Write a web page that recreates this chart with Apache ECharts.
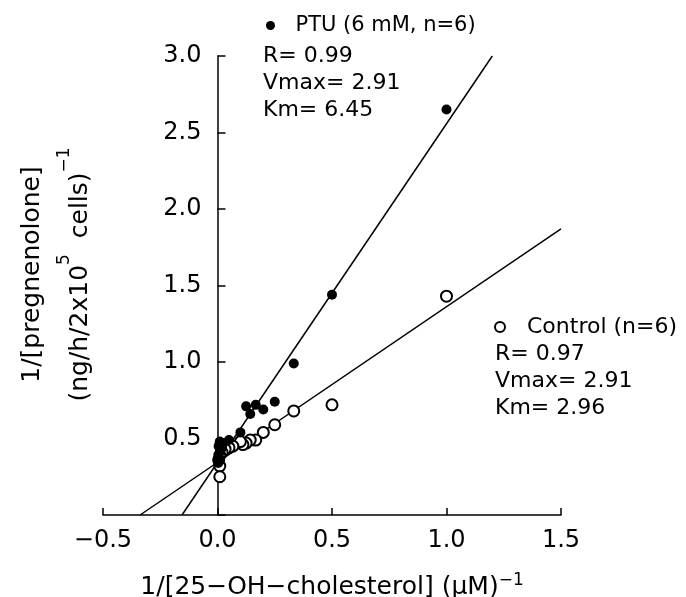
<!DOCTYPE html>
<html>
<head>
<meta charset="utf-8">
<script src="https://cdn.jsdelivr.net/npm/echarts@6/dist/echarts.min.js"></script>
<style>
  html, body { margin: 0; padding: 0; background: #fff; }
  #chart { width: 686px; height: 597px; }
</style>
</head>
<body>
<div id="chart"></div>
<script>
  // PTU (6 mM) points, filled
  const ptuX = [1.0, 0.5, 0.333, 0.25, 0.2, 0.167, 0.143, 0.125, 0.1, 0.05, 0.025, 0.02, 0.01, 0.01, 0.005, 0.005, 0.003];
  const ptuY = [2.65, 1.44, 0.99, 0.74, 0.69, 0.72, 0.66, 0.71, 0.54, 0.49, 0.47, 0.44, 0.48, 0.41, 0.45, 0.37, 0.34];
  // Control points, open
  const ctrlX = [1.0, 0.5, 0.333, 0.25, 0.2, 0.167, 0.143, 0.125, 0.111, 0.1, 0.067, 0.05, 0.033, 0.02, 0.01, 0.01, 0.01, 0.005];
  const ctrlY = [1.43, 0.72, 0.68, 0.59, 0.54, 0.49, 0.49, 0.47, 0.46, 0.48, 0.45, 0.44, 0.43, 0.41, 0.39, 0.32, 0.25, 0.36];
  // fitted lines (end points)
  const ptuFitX = [-0.155, 1.2];
  const ptuFitY = [0, 3.0];
  const ctrlFitX = [-0.338, 1.5];
  const ctrlFitY = [0, 1.87];
  // stats text
  const ptuStats = ['R= 0.99', 'Vmax= 2.91', 'Km= 6.45'];
  const ctrlStats = ['R= 0.97', 'Vmax= 2.91', 'Km= 2.96'];

  const FONT = 'DejaVu Sans';
  const zip = (xs, ys) => xs.map((x, i) => [x, ys[i]]);
  const fmt = (v) => v.toFixed(1).replace('-', '\u2212');

  const chart = echarts.init(document.getElementById('chart'));

  const statText = (lines, left, top0) =>
    lines.map((t, i) => ({
      type: 'text',
      left: left,
      top: top0 + i * 27,
      style: { text: t, font: '22px "' + FONT + '"', fill: '#000' },
    }));

  const option = {
    animation: false,
    backgroundColor: '#fff',
    grid: { left: 103, right: 125, top: 56, bottom: 82, outerBoundsMode: 'none' },
    legend: [
      {
        data: [{ name: 'PTU (6 mM, n=6)', icon: 'circle' }],
        left: 266,
        top: 15,
        padding: 0,
        itemWidth: 40,
        itemHeight: 9,
        textStyle: { fontFamily: FONT, fontSize: 21, color: '#000' },
      },
      {
        data: [{ name: 'Control (n=6)', icon: 'emptyCircle' }],
        left: 494,
        top: 316,
        padding: 0,
        itemWidth: 44,
        itemHeight: 10,
        textStyle: { fontFamily: FONT, fontSize: 22, color: '#000' },
      },
    ],
    graphic: [...statText(ptuStats, 263, 45), ...statText(ctrlStats, 495, 343)],
    xAxis: {
      type: 'value',
      min: -0.5,
      max: 1.5,
      interval: 0.5,
      name: '{t|1/[25\u2212OH\u2212cholesterol] (\u03bcM)}{sup|\u22121}',
      nameLocation: 'middle',
      nameGap: 57,
      nameTextStyle: {
        rich: {
          t: { fontFamily: FONT, fontSize: 25, color: '#000', lineHeight: 30 },
          sup: { fontFamily: FONT, fontSize: 17, color: '#000', verticalAlign: 'top', lineHeight: 30 },
        },
      },
      axisLine: { onZero: false, lineStyle: { color: '#000', width: 1.5 } },
      axisTick: { inside: true, length: 7, lineStyle: { color: '#000', width: 1.5 } },
      axisLabel: { formatter: fmt, fontFamily: FONT, fontSize: 24, color: '#000', margin: 14 },
      splitLine: { show: false },
    },
    yAxis: {
      type: 'value',
      min: 0,
      max: 3.0,
      interval: 0.5,
      // axis drawn at x = 0
      offset: -114.5,
      name: '{t|1/[pregnenolone]}\n{t|(ng/h/2x10}{sup|5}{t|  cells)}{sup|\u22121}',
      nameLocation: 'middle',
      nameGap: 113,
      nameTextStyle: {
        padding: [0, 0, 0, 22],
        rich: {
          t: { fontFamily: FONT, fontSize: 25, color: '#000', lineHeight: 48 },
          sup: { fontFamily: FONT, fontSize: 17, color: '#000', verticalAlign: 'top', lineHeight: 48 },
        },
      },
      axisLine: { onZero: false, lineStyle: { color: '#000', width: 1.5 } },
      axisTick: { inside: true, length: 8, lineStyle: { color: '#000', width: 1.5 } },
      axisLabel: {
        formatter: (v) => (v === 0 ? '' : fmt(v)),
        fontFamily: FONT,
        fontSize: 24,
        color: '#000',
        margin: 16,
      },
      splitLine: { show: false },
    },
    series: [
      {
        name: 'PTU fit',
        type: 'line',
        data: zip(ptuFitX, ptuFitY),
        showSymbol: false,
        lineStyle: { color: '#000', width: 1.5 },
        z: 1,
      },
      {
        name: 'Control fit',
        type: 'line',
        data: zip(ctrlFitX, ctrlFitY),
        showSymbol: false,
        lineStyle: { color: '#000', width: 1.5 },
        z: 1,
      },
      {
        name: 'Control (n=6)',
        type: 'scatter',
        data: zip(ctrlX, ctrlY),
        symbol: 'emptyCircle',
        symbolSize: 11,
        itemStyle: { color: '#000', borderColor: '#000', borderWidth: 1.4, opacity: 1 },
        z: 3,
      },
      {
        name: 'PTU (6 mM, n=6)',
        type: 'scatter',
        data: zip(ptuX, ptuY),
        symbol: 'circle',
        symbolSize: 10,
        itemStyle: { color: '#000', opacity: 1 },
        z: 4,
      },
    ],
  };

  chart.setOption(option);
</script>
</body>
</html>
